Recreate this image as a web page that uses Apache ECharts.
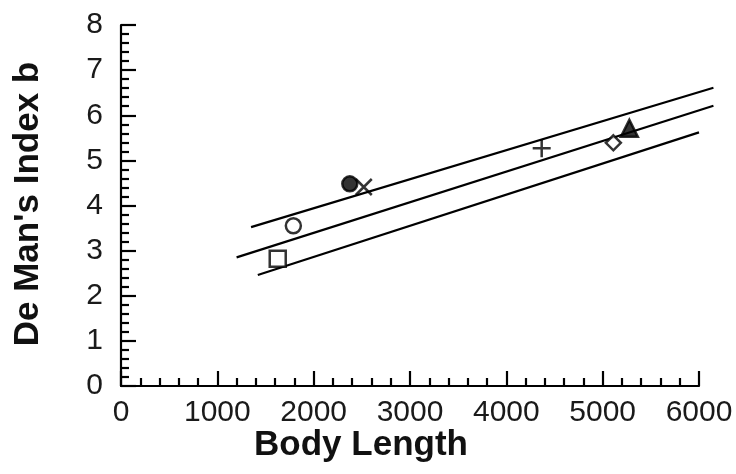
<!DOCTYPE html>
<html>
<head>
<meta charset="utf-8">
<script src="https://cdn.jsdelivr.net/npm/echarts@6/dist/echarts.min.js"></script>
<style>html,body{margin:0;padding:0;background:#fff}#c{width:736px;height:474px}</style>
</head>
<body>
<div id="c"></div>
<script>
// Data points (body length, De Man's index b) for each marker type
const markerNames = ['openSquare', 'openCircle', 'filledCircle', 'cross', 'plus', 'openDiamond', 'filledTriangle'];
const bodyLength = [1627, 1789, 2375, 2520, 4367, 5111, 5277];
const indexB = [2.82, 3.55, 4.48, 4.41, 5.27, 5.39, 5.71];

// Regression line and confidence lines (end points)
const fitX = [1200, 6150];
const fitY = [2.85, 6.21];
const upperX = [1350, 6150];
const upperY = [3.52, 6.61];
const lowerX = [1420, 6000];
const lowerY = [2.46, 5.62];

const xTicks = [0, 1000, 2000, 3000, 4000, 5000, 6000];
const yTicks = [0, 1, 2, 3, 4, 5, 6, 7, 8];
const lineXMax = 6150; // the fitted lines run slightly past the last tick

const symbolOf = {
  openSquare: {symbol: 'rect', size: 16, fill: '#fff'},
  openCircle: {symbol: 'circle', size: 15, fill: '#fff'},
  filledCircle: {symbol: 'circle', size: 15, fill: '#000'},
  cross: {symbol: 'path://M0,0L10,10M10,0L0,10', size: 16, fill: 'none'},
  plus: {symbol: 'path://M5,0L5,10M0,5L10,5', size: 18, fill: 'none'},
  openDiamond: {symbol: 'diamond', size: 15, fill: '#fff'},
  filledTriangle: {symbol: 'triangle', size: 17, fill: '#000'}
};

const gridLeft = 121, gridTop = 25, gridBottom = 88, plotW = 578;

const series = [];
function lineSeries(xs, ys) {
  return {
    type: 'line', clip: false, symbol: 'none', silent: true, z: 1,
    xAxisIndex: 1, yAxisIndex: 1,
    lineStyle: {color: '#000', width: 2.2},
    data: xs.map((x, i) => [x, ys[i]])
  };
}
series.push(lineSeries(fitX, fitY));
series.push(lineSeries(upperX, upperY));
series.push(lineSeries(lowerX, lowerY));
markerNames.forEach((n, i) => {
  const s = symbolOf[n];
  series.push({
    type: 'scatter', name: n, z: 3,
    symbol: s.symbol, symbolSize: s.size,
    itemStyle: {color: s.fill, borderColor: '#000', borderWidth: 2.5},
    data: [[bodyLength[i], indexB[i]]]
  });
});

const axisCommon = {
  type: 'value',
  splitLine: {show: false},
  axisLine: {show: true, onZero: false, lineStyle: {color: '#000', width: 2.2}},
  axisTick: {show: true, inside: true, length: 15, lineStyle: {color: '#000', width: 2.2}},
  minorTick: {show: true, splitNumber: 5, length: 8, lineStyle: {color: '#000', width: 2.2}},
  axisLabel: {color: '#1a1a1a', fontFamily: 'Liberation Sans, Arial, sans-serif', fontSize: 30, formatter: v => String(v)}
};

const xMax = xTicks[xTicks.length - 1];
const chart = echarts.init(document.getElementById('c'), null, {renderer: 'canvas'});
chart.setOption({
  animation: false,
  backgroundColor: '#fff',
  grid: [
    {left: gridLeft, top: gridTop, bottom: gridBottom, width: plotW, containLabel: false},
    {left: gridLeft, top: gridTop, bottom: gridBottom, width: plotW * lineXMax / xMax, containLabel: false}
  ],
  xAxis: [
    Object.assign({}, axisCommon, {
      gridIndex: 0, min: xTicks[0], max: xMax, interval: 1000,
      axisLabel: Object.assign({}, axisCommon.axisLabel, {margin: 12})
    }),
    {type: 'value', gridIndex: 1, min: 0, max: lineXMax, show: false}
  ],
  yAxis: [
    Object.assign({}, axisCommon, {
      gridIndex: 0, min: yTicks[0], max: yTicks[yTicks.length - 1], interval: 1,
      axisLabel: Object.assign({}, axisCommon.axisLabel, {margin: 18})
    }),
    {type: 'value', gridIndex: 1, min: yTicks[0], max: yTicks[yTicks.length - 1], show: false}
  ],
  graphic: [
    {type: 'text', x: 361, y: 445, style: {text: 'Body Length', font: 'bold 35px "Liberation Sans", Arial, sans-serif', fill: '#111', align: 'center', verticalAlign: 'middle'}},
    {type: 'text', x: 28, y: 204, rotation: Math.PI / 2, style: {text: "De Man's Index b", font: 'bold 35px "Liberation Sans", Arial, sans-serif', fill: '#111', align: 'center', verticalAlign: 'middle'}}
  ],
  series: series
});
</script>
</body>
</html>
